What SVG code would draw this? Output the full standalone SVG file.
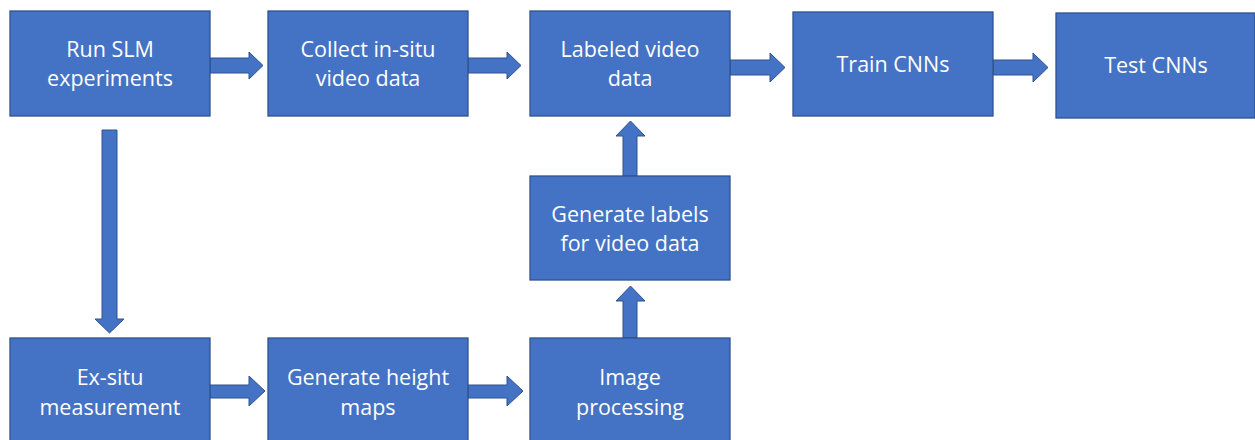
<svg xmlns="http://www.w3.org/2000/svg" width="1255" height="440" viewBox="0 0 1255 440">
  <style>
    .box { fill: #4472C4; stroke: #2F528F; stroke-width: 1.3; }
    .arrow { fill: #4472C4; stroke: #2F528F; stroke-width: 1; }
    .label { fill: #FFFFFF; font-family: "Open Sans", "Noto Sans", sans-serif; font-size: 21.5px; text-anchor: middle; }
  </style>
  <rect width="1255" height="440" fill="#FFFFFF"/>

  <!-- connectors: block arrows -->
  <g id="connectors">
    <!-- Run SLM -> Collect -->
    <path class="arrow" d="M210,58 H249 V52 L263,65.5 L249,79 V73 H210 Z"/>
    <!-- Collect -> Labeled -->
    <path class="arrow" d="M468,58 H507 V52 L521,65.5 L507,79 V73 H468 Z"/>
    <!-- Labeled -> Train -->
    <path class="arrow" d="M730,60 H770 V53 L785,67.5 L770,82 V75 H730 Z"/>
    <!-- Train -> Test -->
    <path class="arrow" d="M993,60 H1033 V53 L1048,67.5 L1033,82 V75 H993 Z"/>
    <!-- Run SLM -> Ex-situ -->
    <path class="arrow" d="M102,130 H117 V319 H124 L109.5,333 L95,319 H102 Z"/>
    <!-- Ex-situ -> Height maps -->
    <path class="arrow" d="M210,385 H249 V376 L265,391 L249,406 V398 H210 Z"/>
    <!-- Height maps -> Image processing -->
    <path class="arrow" d="M468,385 H507 V376 L523,391 L507,406 V398 H468 Z"/>
    <!-- Image processing -> Generate labels -->
    <path class="arrow" d="M623,338 V301 H616 L630.5,286 L645,301 H637 V338 Z"/>
    <!-- Generate labels -> Labeled -->
    <path class="arrow" d="M623,176 V136 H616 L630.5,121 L645,136 H637 V176 Z"/>
  </g>

  <g id="run-slm">
    <rect class="box" x="10" y="11" width="200" height="105"/>
    <text class="label" x="110" y="57">Run SLM</text>
    <text class="label" x="110" y="86">experiments</text>
  </g>
  <g id="collect-video">
    <rect class="box" x="268" y="11" width="200" height="105"/>
    <text class="label" x="368" y="57">Collect in-situ</text>
    <text class="label" x="368" y="86">video data</text>
  </g>
  <g id="labeled-video">
    <rect class="box" x="530" y="11" width="200" height="105"/>
    <text class="label" x="630" y="57">Labeled video</text>
    <text class="label" x="630" y="86">data</text>
  </g>
  <g id="train-cnns">
    <rect class="box" x="793" y="12" width="200" height="104"/>
    <text class="label" x="893" y="72">Train CNNs</text>
  </g>
  <g id="test-cnns">
    <rect class="box" x="1056" y="13" width="199" height="105"/>
    <text class="label" x="1156" y="73">Test CNNs</text>
  </g>
  <g id="generate-labels">
    <rect class="box" x="530" y="176" width="200" height="104"/>
    <text class="label" x="630" y="222">Generate labels</text>
    <text class="label" x="630" y="251">for video data</text>
  </g>
  <g id="ex-situ">
    <rect class="box" x="10" y="338" width="200" height="105"/>
    <text class="label" x="110" y="385">Ex-situ</text>
    <text class="label" x="110" y="415">measurement</text>
  </g>
  <g id="height-maps">
    <rect class="box" x="268" y="338" width="200" height="105"/>
    <text class="label" x="368" y="385">Generate height</text>
    <text class="label" x="368" y="415">maps</text>
  </g>
  <g id="image-processing">
    <rect class="box" x="530" y="338" width="200" height="105"/>
    <text class="label" x="630" y="385">Image</text>
    <text class="label" x="630" y="415">processing</text>
  </g>
</svg>
